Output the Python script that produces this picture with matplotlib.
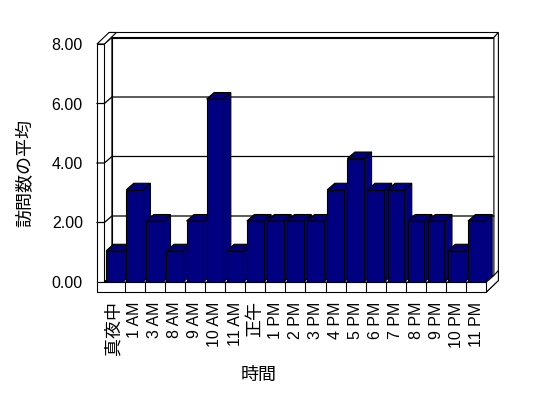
import matplotlib
matplotlib.use('Agg')
import matplotlib.pyplot as plt
from matplotlib.patches import Polygon

plt.rcParams['font.family'] = ['Liberation Sans', 'Noto Sans CJK JP']

# data
hours = ['真夜中', '1 AM', '3 AM', '8 AM', '9 AM', '10 AM', '11 AM', '正午',
         '1 PM', '2 PM', '3 PM', '4 PM', '5 PM', '6 PM', '7 PM', '8 PM',
         '9 PM', '10 PM', '11 PM']
visits = [1.05, 3.1, 2.05, 1.05, 2.05, 6.15, 1.05, 2.05, 2.05, 2.05,
          2.05, 3.1, 4.15, 3.1, 3.1, 2.05, 2.05, 1.05, 2.05]
yticks = [0, 2, 4, 6, 8]

navy = '#000080'
W, H = 548, 398

fig = plt.figure(figsize=(W / 100, H / 100), dpi=100)
# front plane of the 3d box: x 104..486 px, y 44..282 px
ax = fig.add_axes([104.4 / W, (H - 282) / H, 382 / W, 238 / H])
ax.set_xlim(-0.5, 18.5)
ax.set_ylim(0, 8)
for s in ax.spines.values():
    s.set_visible(False)

# depth offsets in data units (pixel sizes / scale)
sx, sy = 382 / 19, 238 / 8
dx, dy = 7.5 / sx, 6.5 / sy      # depth of floor / bars
wx, wy = 4.5 / sx, 5.0 / sy      # thickness of back wall
tw = 7.4 / sx                    # thickness of left wall
ft = 10 / sy                     # thickness of floor
x0, x1 = -0.5, 18.5
T = yticks[-1]


def face(pts, fc='white', z=1, lw=0.8):
    ax.add_patch(Polygon(pts, closed=True, fc=fc, ec='black', lw=lw,
                         clip_on=False, zorder=z, joinstyle='miter'))


# back wall
face([(x0 + dx, dy), (x1 + dx, dy), (x1 + dx, T + dy), (x0 + dx, T + dy)], z=1)
face([(x0 + dx, T + dy), (x1 + dx, T + dy), (x1 + dx + wx, T + dy + wy),
      (x0 - tw + dx + wx, T + dy + wy)], z=1)
face([(x1 + dx, dy), (x1 + dx, T + dy), (x1 + dx + wx, T + dy + wy),
      (x1 + dx + wx, -ft + dy + wy), (x1, -ft)], z=1)

# left wall
face([(x0, 0), (x0, T), (x0 + dx, T + dy), (x0 + dx, dy)], z=2)
face([(x0 - tw, T), (x0, T), (x0 + dx + wx, T + dy + wy),
      (x0 - tw + dx + wx, T + dy + wy)], z=2)
face([(x0 - tw, 0), (x0, 0), (x0, T), (x0 - tw, T)], z=2)

# gridlines
for t in yticks[1:-1]:
    ax.plot([x0 - tw, x0, x0 + dx, x1 + dx], [t, t, t + dy, t + dy],
            color='black', lw=0.9, clip_on=False, zorder=3)

# floor
face([(x0, 0), (x1, 0), (x1 + dx, dy), (x0 + dx, dy)], z=4)
face([(x1, 0), (x1, -ft), (x1 + dx + wx, -ft + dy + wy), (x1 + dx + wx, dy + wy),
      (x1 + dx, dy)], z=4)
face([(x0 - tw, -ft), (x1, -ft), (x1, 0), (x0 - tw, 0)], z=4)
for i in range(len(hours) - 1):
    ax.plot([i + 0.5, i + 0.5], [-ft, 0], color='black', lw=0.8,
            clip_on=False, zorder=5)

# bars: front via ax.bar, top and side faces offset in depth
bw = 0.83
xs = list(range(len(hours)))
for i, v in zip(xs, visits):
    z = 10 + 3 * i
    l, r = i - bw / 2, i + bw / 2
    face([(r, 0), (r, v), (r + dx, v + dy), (r + dx, dy)], fc=navy, z=z)
    face([(l, v), (r, v), (r + dx, v + dy), (l + dx, v + dy)], fc=navy, z=z)
    ax.bar(i, v, width=bw, color=navy, edgecolor='black', lw=0.8,
           zorder=z + 1)

ax.set_xticks(xs, hours, rotation=90, fontsize=11.5)
for lab in ax.get_xticklabels():
    if lab.get_text() in ('真夜中', '正午'):
        lab.set_fontsize(13)
ax.set_yticks(yticks, [f'{t:.2f}' for t in yticks], fontsize=11.5)
ax.tick_params(axis='x', length=0, pad=14)
ax.tick_params(axis='y', length=0, pad=15.5)

ax.set_ylabel('訪問数の平均', fontsize=13)
ax.yaxis.set_label_coords(-0.182, 0.458)
ax.set_xlabel('時間', fontsize=13)
ax.xaxis.set_label_coords(0.405, -0.355)

fig.savefig('out.png', dpi=100)
